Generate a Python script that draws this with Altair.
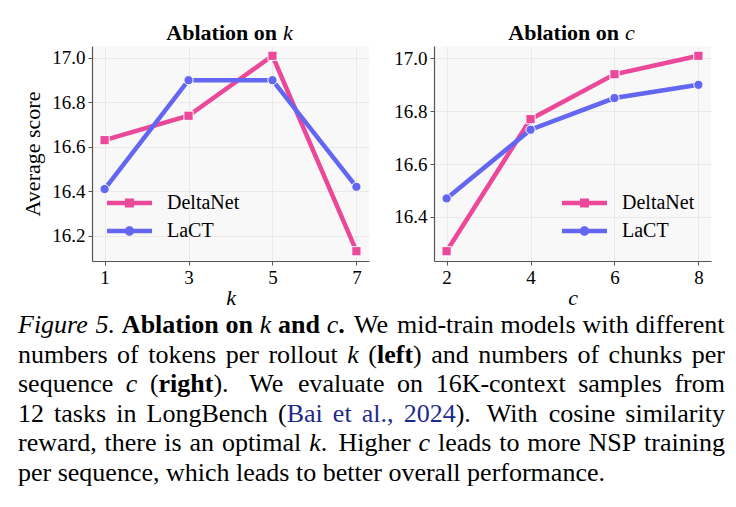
import re
import altair as alt
import pandas as pd

SERIF = "Liberation Serif"

# ---------------- data ----------------
SERIES = ["DeltaNet", "LaCT"]
COLORS = ["#EC4899", "#6366F1"]

k_values = [1, 3, 5, 7]
deltanet_k = [16.63, 16.74, 17.01, 16.13]
lact_k = [16.41, 16.90, 16.90, 16.42]

c_values = [2, 4, 6, 8]
deltanet_c = [16.27, 16.77, 16.94, 17.01]
lact_c = [16.47, 16.73, 16.85, 16.90]

y_ticks_k = [16.2, 16.4, 16.6, 16.8, 17.0]
y_ticks_c = [16.4, 16.6, 16.8, 17.0]

# ---------------- layout constants ----------------
PLOT_W = 277
PLOT_H = 215
PLOT_LEFT = 92      # page x of left plot area
PLOT_TOP = 45       # page y of plot areas

# legend glyphs: line with a square / circle marker in the middle
DELTA_PATH = ("M-1,-0.1L-0.2,-0.1L-0.2,0.1L-1,0.1Z "
              "M0.2,-0.1L1,-0.1L1,0.1L0.2,0.1Z "
              "M-0.2,-0.2L0.2,-0.2L0.2,0.2L-0.2,0.2Z")
LACT_PATH = ("M-1,-0.1L-0.17,-0.1L-0.17,0.1L-1,0.1Z "
             "M0.17,-0.1L1,-0.1L1,0.1L0.17,0.1Z "
             "M0.21,0A0.21,0.21 0 1,1 -0.21,0A0.21,0.21 0 1,1 0.21,0Z")

# ---------------- caption (justified text, laid out word by word) ----------------
CAP_SIZE = 26
CAP_LEFT, CAP_RIGHT = 18, 725
CAPTION_BASELINES = [332, 361.5, 391, 420.5, 450, 479.5]
CAPTION_LINES = [
    [("Figure 5.", "i"), (" ", "r"), ("Ablation on", "b"), (" ", "r"), ("k", "i"), (" ", "r"),
     ("and", "b"), (" ", "r"), ("c", "i"), (".", "b"), ("  ", "r"),
     ("We mid-train models with different", "r")],
    [("numbers of tokens per rollout ", "r"), ("k", "i"), (" (", "r"), ("left", "b"),
     (") and numbers of chunks per", "r")],
    [("sequence ", "r"), ("c", "i"), (" (", "r"), ("right", "b"),
     (").  We evaluate on 16K-context samples from", "r")],
    [("12 tasks in LongBench (", "r"), ("Bai et al., 2024", "link"), (").  With cosine similarity", "r")],
    [("reward, there is an optimal ", "r"), ("k", "i"), (".  Higher ", "r"), ("c", "i"),
     (" leads to more NSP training", "r")],
    [("per sequence, which leads to better overall performance.", "r")],
]

# Times advance widths (1/1000 em) used to space the words
W_REG = {' ': 250, '(': 333, ')': 333, ',': 250, '-': 333, '.': 250, '0': 500, '1': 500, '2': 500,
         '4': 500, '6': 500, 'B': 667, 'H': 722, 'K': 722, 'L': 611, 'N': 722, 'P': 556, 'S': 556,
         'W': 944, 'a': 444, 'b': 500, 'c': 444, 'd': 500, 'e': 444, 'f': 333, 'g': 500, 'h': 500,
         'i': 278, 'k': 500, 'l': 278, 'm': 778, 'n': 500, 'o': 500, 'p': 500, 'q': 500, 'r': 333,
         's': 389, 't': 278, 'u': 500, 'v': 500, 'w': 722, 'x': 500, 'y': 500}
W_BOLD = {' ': 250, '.': 250, 'A': 722, 'a': 500, 'b': 556, 'd': 556, 'e': 444, 'f': 333, 'g': 500,
          'h': 556, 'i': 278, 'l': 278, 'n': 556, 'o': 500, 'r': 444, 't': 333}
W_ITAL = {' ': 250, '.': 250, '5': 500, 'F': 611, 'c': 444, 'e': 444, 'g': 500, 'i': 278,
          'k': 444, 'r': 389, 'u': 500}
WIDTHS = {"r": W_REG, "link": W_REG, "b": W_BOLD, "i": W_ITAL}


def text_width(txt, style):
    table = WIDTHS[style]
    return sum(table.get(ch, 500) for ch in txt) * CAP_SIZE / 1000.0


def caption_segments():
    rows = []
    last = len(CAPTION_LINES) - 1
    for ln, pieces in enumerate(CAPTION_LINES):
        items = []
        for txt, style in pieces:
            for part in re.split(r"( +)", txt):
                if not part:
                    continue
                if part.startswith(" "):
                    sentence = len(part) >= 2
                    items.append(("sp", 0.333 * CAP_SIZE if sentence else 0.25 * CAP_SIZE,
                                  2.0 if sentence else 1.0))
                else:
                    items.append(("tx", part, style))
        natural = sum(it[1] if it[0] == "sp" else text_width(it[1], it[2]) for it in items)
        weights = sum(it[2] for it in items if it[0] == "sp")
        extra = (CAP_RIGHT - CAP_LEFT) - natural
        unit = extra / weights if (ln != last and weights > 0) else 0.0
        x = CAP_LEFT
        for it in items:
            if it[0] == "sp":
                x += it[1] + unit * it[2]
            else:
                rows.append({"t": it[1], "s": it[2], "px": x - PLOT_LEFT,
                             "py": CAPTION_BASELINES[ln] - PLOT_TOP})
                x += text_width(it[1], it[2])
    return pd.DataFrame(rows)


def caption_layers():
    cdf = caption_segments()
    styles = {
        "r": dict(fontWeight="normal", fontStyle="normal", color="black"),
        "b": dict(fontWeight="bold", fontStyle="normal", color="black"),
        "i": dict(fontWeight="normal", fontStyle="italic", color="black"),
        "link": dict(fontWeight="normal", fontStyle="normal", color="#1c2a8c"),
    }
    layers = []
    for key, st in styles.items():
        layers.append(
            alt.Chart(cdf[cdf["s"] == key])
            .mark_text(font=SERIF, fontSize=CAP_SIZE, baseline="alphabetic", align="left", **st)
            .encode(
                x=alt.X("px:Q", scale=None),
                y=alt.Y("py:Q", scale=None),
                text="t:N",
            )
        )
    return layers


def make_panel(xs, dn, la, xdomain, ydomain, yticks, ytitle, var, legend_x, with_caption):
    n = len(xs)
    df = pd.DataFrame({
        "x": list(xs) + list(xs),
        "score": list(dn) + list(la),
        "model": [SERIES[0]] * n + [SERIES[1]] * n,
    })
    base = alt.Chart(df).encode(
        x=alt.X("x:Q",
                scale=alt.Scale(domain=xdomain, nice=False, zero=False),
                axis=alt.Axis(values=xs, format="d", title=var, titleFontStyle="italic")),
        y=alt.Y("score:Q",
                scale=alt.Scale(domain=ydomain, nice=False, zero=False),
                axis=alt.Axis(values=yticks, format=".1f"),
                title=ytitle),
    )
    color_scale = alt.Scale(domain=SERIES, range=COLORS)
    lines = base.mark_line(strokeWidth=4.5).encode(
        color=alt.Color("model:N", scale=color_scale, legend=None)
    )
    pts = base.mark_point(filled=True, size=85, stroke="white", strokeWidth=1, opacity=1).encode(
        color=alt.Color("model:N", scale=color_scale, legend=None),
        shape=alt.Shape("model:N", scale=alt.Scale(domain=SERIES, range=["square", "circle"]), legend=None),
    )
    leg = alt.Legend(orient="none", legendX=legend_x, legendY=147, title=None,
                     symbolSize=2025, symbolStrokeWidth=0, symbolOpacity=1,
                     labelFont=SERIF, labelFontSize=20, labelColor="black",
                     labelOffset=15, rowPadding=8, clipHeight=20, padding=0)
    legend_layer = base.transform_calculate(label="datum.model").mark_point(filled=True, opacity=0).encode(
        color=alt.Color("label:N", scale=alt.Scale(domain=SERIES, range=COLORS), legend=leg),
        shape=alt.Shape("label:N", scale=alt.Scale(domain=SERIES, range=[DELTA_PATH, LACT_PATH]), legend=leg),
    )
    one = pd.DataFrame({"d": [0]})
    title_a = alt.Chart(one).mark_text(text="Ablation on", font=SERIF, fontSize=22, fontWeight="bold",
                                       align="right", baseline="alphabetic", color="black").encode(
        x=alt.value(185), y=alt.value(-6))
    title_b = alt.Chart(one).mark_text(text=var, font=SERIF, fontSize=22, fontStyle="italic",
                                       align="left", baseline="alphabetic", color="black").encode(
        x=alt.value(191), y=alt.value(-6))
    layers = [lines, pts, legend_layer, title_a, title_b]
    if with_caption:
        layers += caption_layers()
    return alt.layer(*layers).resolve_scale(color="independent", shape="independent").properties(
        width=PLOT_W, height=PLOT_H)


left = make_panel(k_values, deltanet_k, lact_k, [0.7, 7.3], [16.086, 17.054], y_ticks_k,
                  "Average score", "k", 15, True)
right = make_panel(c_values, deltanet_c, lact_c, [1.7, 8.3], [16.233, 17.047], y_ticks_c,
                   None, "c", 128, False)

chart = (
    alt.hconcat(left, right, spacing=65, bounds="flush")
    .properties(padding={"left": 18, "top": 22, "right": 0, "bottom": 0})
    .configure_view(fill="#F8F8F8", stroke=None)
    .configure_axis(labelFont=SERIF, labelFontSize=19, labelColor="black",
                    titleFont=SERIF, titleFontSize=22, titleFontWeight="normal", titleColor="black",
                    domainColor="#555555", domainWidth=1.2, tickColor="#555555", tickSize=4,
                    tickWidth=1, gridColor="#E5E5E5", gridWidth=0.8, labelPadding=3)
    .configure_axisY(titlePadding=7)
    .configure_axisX(titlePadding=0)
)

chart.save("out.html", embed_options={"renderer": "svg", "actions": False})
